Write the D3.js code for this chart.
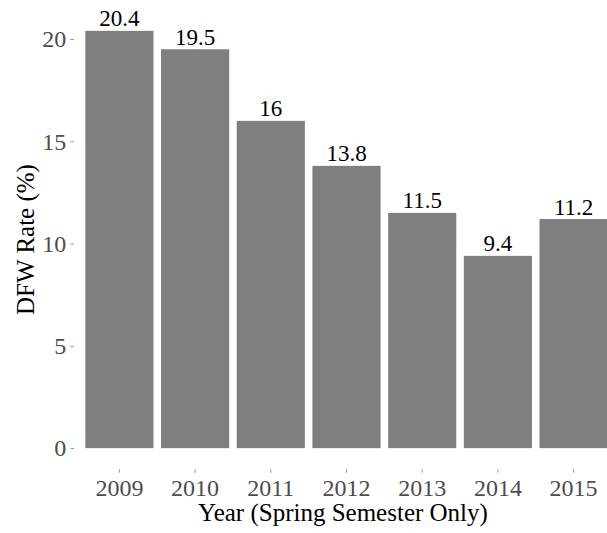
<!DOCTYPE html>
<html>
<head>
<meta charset="utf-8">
<script src="https://cdn.jsdelivr.net/npm/d3@7"></script>
<style>
  html, body { margin: 0; padding: 0; background: #fff; }
  svg { display: block; font-family: "Liberation Serif", "Times New Roman", serif; }
</style>
</head>
<body>
<svg id="chart" width="607" height="533"></svg>
<script>
const years = ['2009', '2010', '2011', '2012', '2013', '2014', '2015'];
const dfwRates = [20.4, 19.5, 16, 13.8, 11.5, 9.4, 11.2];
const yTicks = [0, 5, 10, 15, 20];

const width = 607, height = 533;
const panel = { left: 74, right: 619, top: 10, bottom: 469 };
const serif = '"Liberation Serif", "Times New Roman", serif';

const svg = d3.select('#chart');

// ggplot-like discrete scale: 0.6 expansion each side, bars 0.9 wide
const x = d3.scaleBand()
  .domain(years)
  .range([panel.left, panel.right])
  .paddingInner(0.1)
  .paddingOuter(0.15);

// continuous y with 5% expansion
const yMax = d3.max(dfwRates);
const y = d3.scaleLinear()
  .domain([-0.05 * yMax, yMax * 1.05])
  .range([panel.bottom, panel.top]);

svg.append('g')
  .selectAll('rect')
  .data(dfwRates)
  .join('rect')
  .attr('x', (d, i) => x(years[i]))
  .attr('width', x.bandwidth())
  .attr('y', (d) => y(d))
  .attr('height', (d) => y(0) - y(d))
  .attr('fill', '#7f7f7f');

svg.append('g')
  .selectAll('text')
  .data(dfwRates)
  .join('text')
  .attr('x', (d, i) => x(years[i]) + x.bandwidth() / 2)
  .attr('y', (d) => y(d) - 4.5)
  .attr('text-anchor', 'middle')
  .attr('font-size', 23)
  .attr('fill', '#000')
  .text((d) => d);

// y axis
const yAxis = svg.append('g')
  .attr('transform', `translate(${panel.left},0)`)
  .call(d3.axisLeft(y).tickValues(yTicks).tickSize(3.7).tickPadding(4).tickFormat(d3.format('d')));
yAxis.attr('font-family', serif).attr('font-size', 24);
yAxis.select('.domain').remove();
yAxis.selectAll('line').attr('stroke', '#999');
yAxis.selectAll('text').attr('fill', '#4d4d4d');

// x axis
const xAxis = svg.append('g')
  .attr('transform', `translate(0,${panel.bottom})`)
  .call(d3.axisBottom(x).tickSize(3.7).tickPadding(4));
xAxis.attr('font-family', serif).attr('font-size', 24);
xAxis.select('.domain').remove();
xAxis.selectAll('line').attr('stroke', '#999');
xAxis.selectAll('text').attr('fill', '#4d4d4d').attr('dy', null).attr('y', 27);

svg.append('text')
  .attr('x', 343)
  .attr('y', 521)
  .attr('text-anchor', 'middle')
  .attr('font-size', 25)
  .attr('fill', '#000')
  .text('Year (Spring Semester Only)');

svg.append('text')
  .attr('transform', `translate(34,${(panel.top + panel.bottom) / 2}) rotate(-90)`)
  .attr('text-anchor', 'middle')
  .attr('font-size', 25)
  .attr('fill', '#000')
  .text('DFW Rate (%)');
</script>
</body>
</html>
